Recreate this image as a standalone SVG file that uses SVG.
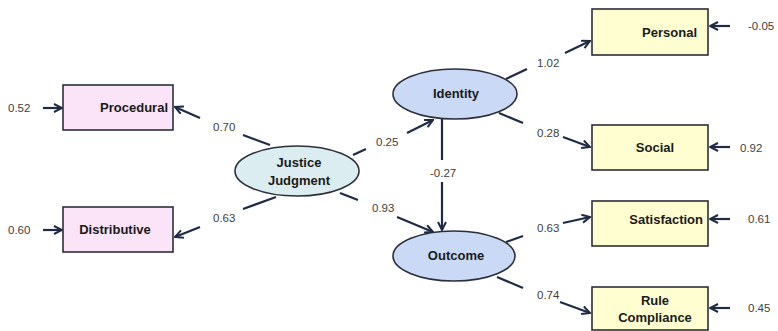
<svg xmlns="http://www.w3.org/2000/svg" width="778" height="331" viewBox="0 0 778 331">
<defs>
<style>
.box{stroke:#2b2f3a;stroke-width:1.6}
.pink{fill:#fbe3f8}
.yel{fill:#fefed0}
.jj{fill:#dcedf2;stroke:#2b2f3a;stroke-width:1.6}
.lat{fill:#cad9f5;stroke:#2b2f3a;stroke-width:1.6}
.nt{font-family:"Liberation Sans",Arial,sans-serif;font-weight:bold;font-size:13px;fill:#1a1a1a}
.lb{font-family:"Liberation Sans",Arial,sans-serif;font-size:11.5px;fill:#404040}
.ln{stroke:#1f2b45;stroke-width:2.2;fill:none}
.ar{stroke:#1f2b45;stroke-width:2.2;fill:none;marker-end:url(#ah)}
</style>
<marker id="ah" viewBox="0 0 10 10" refX="9" refY="5" markerWidth="10" markerHeight="10" markerUnits="userSpaceOnUse" orient="auto">
<path d="M1,1 L9,5 L1,9" fill="none" stroke="#1f2b45" stroke-width="2"/>
</marker>
</defs>
<rect width="778" height="331" fill="#ffffff"/>
<g id="connectors">
<line class="ar" x1="43" y1="108" x2="62" y2="108"/>
<text class="lb" x="8" y="112">0.52</text>
<line class="ar" x1="43" y1="230" x2="62" y2="230"/>
<text class="lb" x="8" y="234">0.60</text>
<line class="ln" x1="270" y1="145" x2="243" y2="135"/>
<text class="lb" x="213" y="131">0.70</text>
<line class="ar" x1="200" y1="118" x2="175" y2="107"/>
<line class="ln" x1="276" y1="197" x2="243" y2="209"/>
<text class="lb" x="213" y="222">0.63</text>
<line class="ar" x1="200" y1="227" x2="175" y2="237"/>
<line class="ln" x1="353" y1="155" x2="366" y2="149"/>
<text class="lb" x="376" y="146">0.25</text>
<line class="ar" x1="407" y1="133" x2="433" y2="120"/>
<line class="ln" x1="340" y1="193" x2="358" y2="200"/>
<text class="lb" x="372" y="212">0.93</text>
<line class="ar" x1="397" y1="217" x2="433" y2="232"/>
<line class="ln" x1="442" y1="119" x2="442" y2="160"/>
<text class="lb" x="430" y="177">-0.27</text>
<line class="ar" x1="442" y1="182" x2="442" y2="230"/>
<line class="ln" x1="506" y1="79" x2="527" y2="69"/>
<text class="lb" x="537" y="67">1.02</text>
<line class="ar" x1="565" y1="53" x2="590" y2="41"/>
<line class="ln" x1="499" y1="113" x2="523" y2="123"/>
<text class="lb" x="537" y="137">0.28</text>
<line class="ar" x1="563" y1="137" x2="590" y2="147"/>
<line class="ln" x1="506" y1="242" x2="523" y2="236"/>
<text class="lb" x="537" y="232">0.63</text>
<line class="ar" x1="563" y1="223" x2="590" y2="217"/>
<line class="ln" x1="497" y1="277" x2="523" y2="288"/>
<text class="lb" x="537" y="299">0.74</text>
<line class="ar" x1="560" y1="302" x2="590" y2="313"/>
<line class="ar" x1="730" y1="26" x2="710" y2="26"/>
<text class="lb" x="748" y="30">-0.05</text>
<line class="ar" x1="730" y1="147" x2="710" y2="147"/>
<text class="lb" x="740" y="152">0.92</text>
<line class="ar" x1="730" y1="219" x2="710" y2="219"/>
<text class="lb" x="748" y="223">0.61</text>
<line class="ar" x1="730" y1="308" x2="710" y2="308"/>
<text class="lb" x="748" y="312">0.45</text>
</g>
<g id="procedural">
<rect class="box pink" x="63" y="85" width="110" height="45"/>
<text class="nt" x="168" y="112" text-anchor="end">Procedural</text>
</g>
<g id="distributive">
<rect class="box pink" x="63" y="207" width="110" height="45"/>
<text class="nt" x="115" y="234" text-anchor="middle">Distributive</text>
</g>
<g id="justice">
<ellipse class="jj" cx="297" cy="171" rx="62" ry="25"/>
<text class="nt" x="299" y="167" text-anchor="middle">Justice</text>
<text class="nt" x="299" y="185" text-anchor="middle">Judgment</text>
</g>
<g id="identity">
<ellipse class="lat" cx="455" cy="94" rx="62" ry="25"/>
<text class="nt" x="456" y="98" text-anchor="middle">Identity</text>
</g>
<g id="outcome">
<ellipse class="lat" cx="454" cy="256" rx="61" ry="25"/>
<text class="nt" x="456" y="260" text-anchor="middle">Outcome</text>
</g>
<g id="personal">
<rect class="box yel" x="592" y="9" width="116" height="46"/>
<text class="nt" x="697" y="37" text-anchor="end">Personal</text>
</g>
<g id="social">
<rect class="box yel" x="592" y="125" width="116" height="45"/>
<text class="nt" x="655" y="152" text-anchor="middle">Social</text>
</g>
<g id="satisfaction">
<rect class="box yel" x="592" y="201" width="116" height="45"/>
<text class="nt" x="703" y="224" text-anchor="end">Satisfaction</text>
</g>
<g id="rulecompliance">
<rect class="box yel" x="592" y="287" width="116" height="43"/>
<text class="nt" x="655" y="305" text-anchor="middle">Rule</text>
<text class="nt" x="655" y="322" text-anchor="middle">Compliance</text>
</g>
</svg>
